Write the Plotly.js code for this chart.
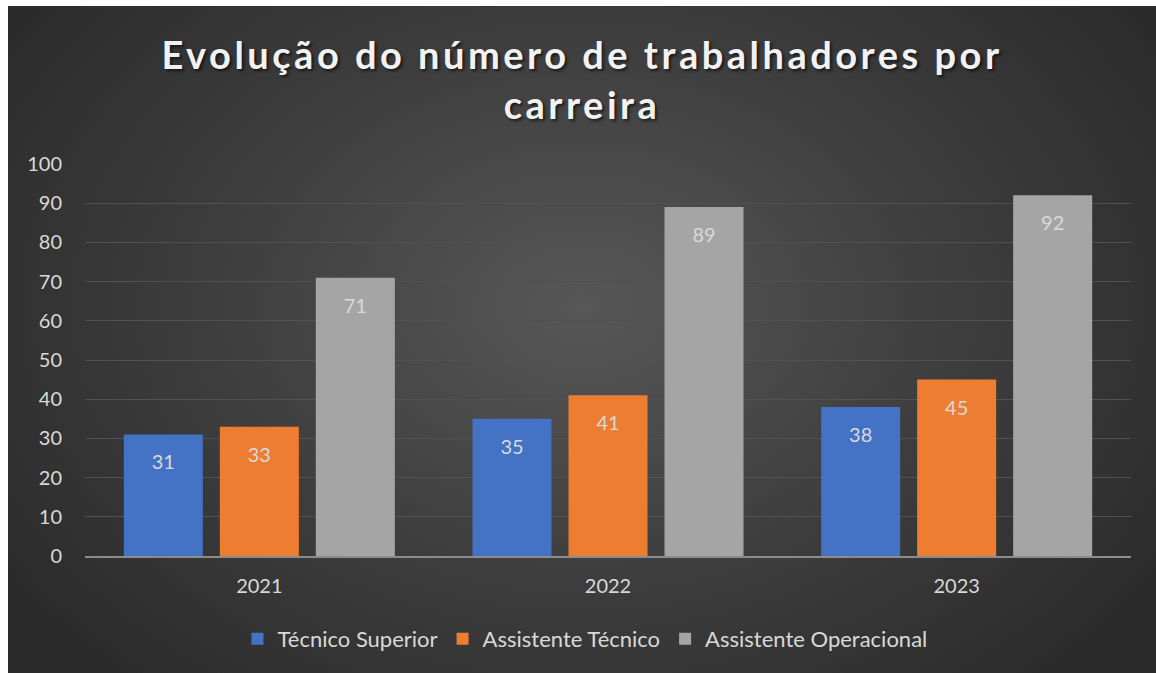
<!DOCTYPE html>
<html>
<head>
<meta charset="utf-8">
<script src="https://cdn.plot.ly/plotly-3.0.1.min.js"></script>
<style>
  html, body { margin: 0; padding: 0; background: #ffffff; overflow: hidden; }
  #chart {
    position: absolute; left: 8px; top: 6px; width: 1148px; height: 667px;
    background: radial-gradient(ellipse 60% 75% at 50% 45%, #575757 0%, #3d3d3d 55%, #2b2b2b 100%);
  }
  #chart .gtitle { letter-spacing: 3.5px; }
</style>
</head>
<body>
<div id="chart"></div>
<script>
const categories = ["2021", "2022", "2023"];
const seriesNames = ["Técnico Superior", "Assistente Técnico", "Assistente Operacional"];
const tecnicoSuperior = [31, 35, 38];
const assistenteTecnico = [33, 41, 45];
const assistenteOperacional = [71, 89, 92];
const colors = ["#4472c4", "#ed7d31", "#a5a5a5"];
const yTicks = [0, 10, 20, 30, 40, 50, 60, 70, 80, 90, 100];

const FONT = "Lato, 'Open Sans', sans-serif";
const values = [tecnicoSuperior, assistenteTecnico, assistenteOperacional];

const traces = values.map((v, i) => ({
  type: "bar",
  name: seriesNames[i],
  x: categories,
  y: v,
  marker: { color: colors[i] },
  text: v.map(String),
  texttemplate: "<span style='font-size:6px'>\u00a0</span><br>%{text}",
  textposition: "inside",
  insidetextanchor: "end",
  textangle: 0,
  textfont: { family: FONT, size: 20, color: "#d9d9d9" },
  hoverinfo: "x+y+name"
}));

const layout = {
  width: 1148, height: 667,
  paper_bgcolor: "rgba(0,0,0,0)",
  plot_bgcolor: "rgba(0,0,0,0)",
  margin: { l: 77, r: 25, t: 158, b: 117 },
  barmode: "group",
  bargap: 0.174,
  bargroupgap: 0.177,
  title: {
    text: "Evolução do número de trabalhadores por<br>carreira",
    font: { family: FONT, size: 38, color: "#f2f2f2", weight: 700, shadow: "2px 2px 3px rgba(0,0,0,0.6)" },
    x: 0.5, xanchor: "center",
    yref: "container", y: 0.905, yanchor: "top"
  },
  xaxis: {
    type: "category",
    tickfont: { family: FONT, size: 20, color: "#d9d9d9" },
    showgrid: false,
    showline: true, linecolor: "#8c8c8c", linewidth: 2,
    ticks: "", ticklen: 0, ticklabelstandoff: 11,
    zeroline: false
  },
  yaxis: {
    range: [0, 100],
    tickvals: yTicks,
    ticktext: yTicks.map(String),
    tickfont: { family: FONT, size: 20, color: "#d9d9d9" },
    showgrid: true, gridcolor: "#515151", gridwidth: 1,
    zeroline: false, showline: false,
    ticks: "", ticklabelstandoff: 22
  },
  showlegend: true,
  legend: {
    orientation: "h",
    x: 0.478, xanchor: "center",
    yref: "container", y: 0.051, yanchor: "middle",
    font: { family: FONT, size: 22, color: "#d9d9d9" },
    bgcolor: "rgba(0,0,0,0)",
    itemwidth: 30,
    traceorder: "normal"
  }
};

Plotly.newPlot("chart", traces, layout, { displayModeBar: false, staticPlot: true });
</script>
</body>
</html>
